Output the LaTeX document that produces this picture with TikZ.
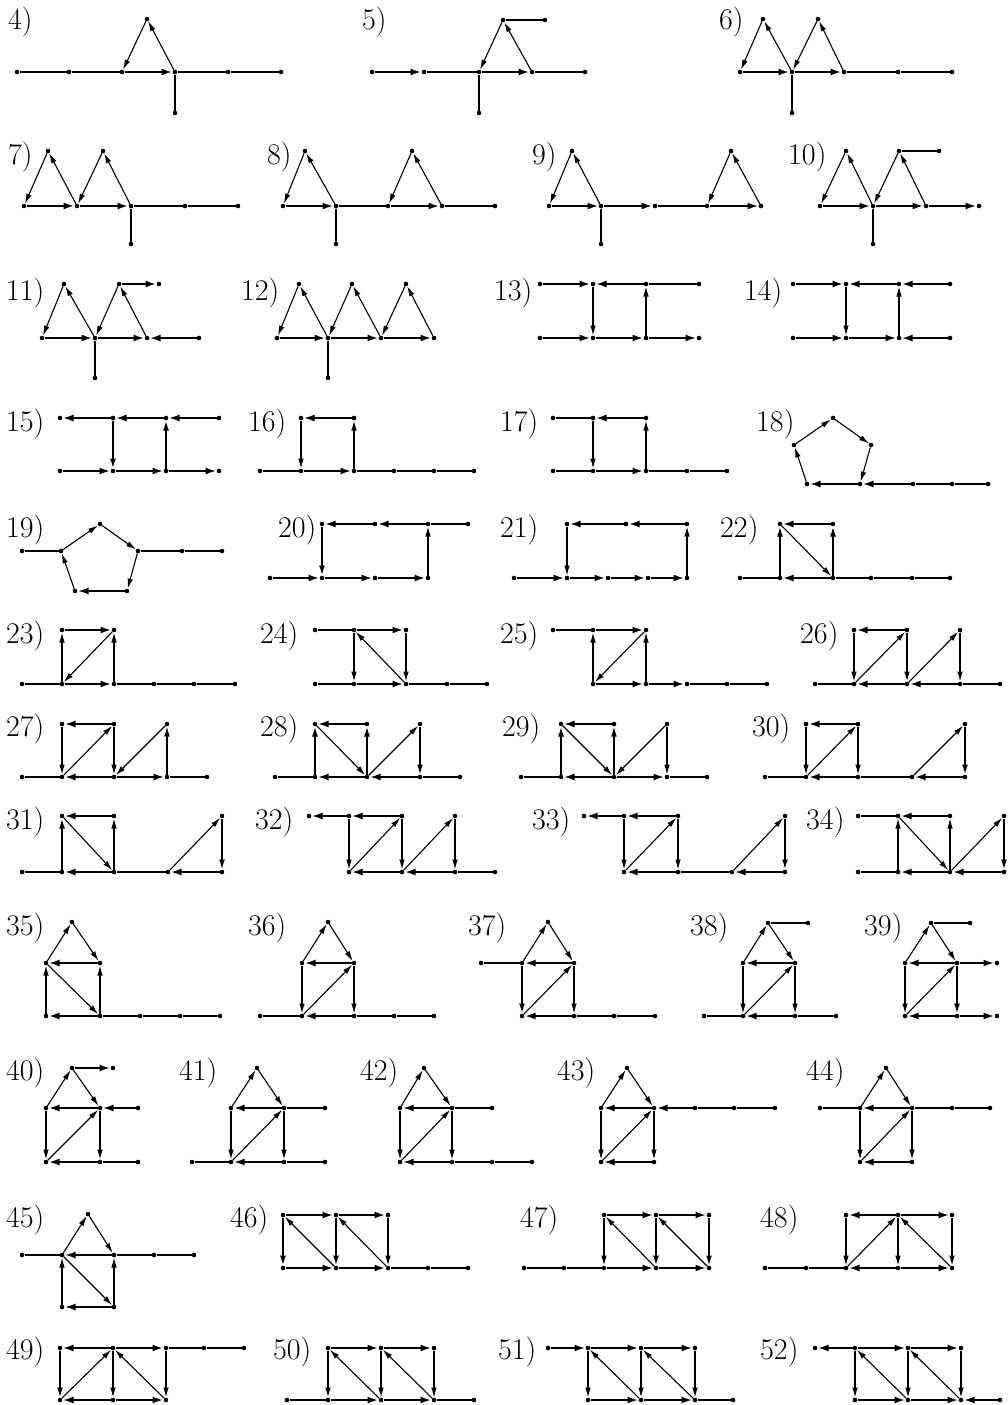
\documentclass[tikz,border=0pt]{standalone}
\usetikzlibrary{arrows.meta}
\tikzset{
 dot/.style={circle,fill=black,inner sep=0pt,minimum size=4.6pt},
 lbl/.style={anchor=west,inner sep=0pt,font=\fontsize{30}{32}\selectfont},
 tk/.style={line width=2.9pt},
 tka/.style={line width=2.9pt,-{Latex[length=11pt,width=7pt]}},
 tn/.style={line width=1.1pt},
 tna/.style={line width=1.1pt,-{Latex[length=10pt,width=5.5pt]}},
 md/.style={line width=1.8pt},
 mda/.style={line width=1.8pt,-{Latex[length=10pt,width=6pt]}},
}
\newcommand\D[3]{\node[dot] (#1) at (#2,#3) {};}
\newcommand\E[3]{\draw[#1] (#2) -- (#3);}
\begin{document}
\begin{tikzpicture}[x=1pt,y=-1pt]
\path[use as bounding box] (0,0) rectangle (1008,1405);
% labels
\node[lbl] (L4) at (8,22) {4)};
\node[lbl] (L5) at (362,22) {5)};
\node[lbl] (L6) at (719,22) {6)};
\node[lbl] (L7) at (8,157) {7)};
\node[lbl] (L8) at (267,157) {8)};
\node[lbl] (L9) at (532,157) {9)};
\node[lbl] (L10) at (788,157) {10)};
\node[lbl] (L11) at (6,293) {11)};
\node[lbl] (L12) at (241,293) {12)};
\node[lbl] (L13) at (494,293) {13)};
\node[lbl] (L14) at (744,293) {14)};
\node[lbl] (L15) at (6,424) {15)};
\node[lbl] (L16) at (248,424) {16)};
\node[lbl] (L17) at (500,424) {17)};
\node[lbl] (L18) at (756,424) {18)};
\node[lbl] (L19) at (6,530) {19)};
\node[lbl] (L20) at (278,530) {20)};
\node[lbl] (L21) at (500,530) {21)};
\node[lbl] (L22) at (720,530) {22)};
\node[lbl] (L23) at (6,636) {23)};
\node[lbl] (L24) at (260,636) {24)};
\node[lbl] (L25) at (500,636) {25)};
\node[lbl] (L26) at (800,636) {26)};
\node[lbl] (L27) at (6,729) {27)};
\node[lbl] (L28) at (260,729) {28)};
\node[lbl] (L29) at (502,729) {29)};
\node[lbl] (L30) at (752,729) {30)};
\node[lbl] (L31) at (6,822) {31)};
\node[lbl] (L32) at (255,822) {32)};
\node[lbl] (L33) at (532,822) {33)};
\node[lbl] (L34) at (806,822) {34)};
\node[lbl] (L35) at (6,928) {35)};
\node[lbl] (L36) at (248,928) {36)};
\node[lbl] (L37) at (468,928) {37)};
\node[lbl] (L38) at (690,928) {38)};
\node[lbl] (L39) at (864,928) {39)};
\node[lbl] (L40) at (6,1073) {40)};
\node[lbl] (L41) at (179,1073) {41)};
\node[lbl] (L42) at (360,1073) {42)};
\node[lbl] (L43) at (557,1073) {43)};
\node[lbl] (L44) at (806,1073) {44)};
\node[lbl] (L45) at (6,1220) {45)};
\node[lbl] (L46) at (230,1220) {46)};
\node[lbl] (L47) at (520,1220) {47)};
\node[lbl] (L48) at (760,1220) {48)};
\node[lbl] (L49) at (6,1352) {49)};
\node[lbl] (L50) at (273,1352) {50)};
\node[lbl] (L51) at (498,1352) {51)};
\node[lbl] (L52) at (760,1352) {52)};
% 4
\D{g4a}{17}{72}\D{g4b}{69}{72}\D{g4c}{122}{72}\D{g4d}{175}{72}\D{g4e}{228}{72}\D{g4f}{281}{72}\D{g4t}{147}{19}\D{g4u}{175}{113}
\E{tk}{g4a}{g4b}\E{tk}{g4b}{g4c}\E{tka}{g4c}{g4d}\E{tk}{g4d}{g4e}\E{tk}{g4e}{g4f}\E{md}{g4d}{g4u}\E{tna}{g4t}{g4c}\E{tna}{g4d}{g4t}
% 5
\D{g5a}{372}{72}\D{g5b}{424}{72}\D{g5c}{479}{72}\D{g5d}{532}{72}\D{g5e}{585}{72}\D{g5t}{503}{20}\D{g5s}{545}{20}\D{g5u}{479}{113}
\E{tka}{g5a}{g5b}\E{tk}{g5b}{g5c}\E{tka}{g5c}{g5d}\E{tk}{g5d}{g5e}\E{tk}{g5t}{g5s}\E{tn}{g5c}{g5u}\E{tna}{g5t}{g5c}\E{tna}{g5d}{g5t}
% 6
\D{g6a}{740}{72}\D{g6b}{792}{72}\D{g6c}{844}{72}\D{g6d}{898}{72}\D{g6e}{952}{72}\D{g6t}{763}{19}\D{g6s}{818}{19}\D{g6u}{792}{113}
\E{tka}{g6a}{g6b}\E{tka}{g6b}{g6c}\E{tk}{g6c}{g6d}\E{tk}{g6d}{g6e}\E{tk}{g6b}{g6u}\E{tna}{g6t}{g6a}\E{tna}{g6b}{g6t}\E{tna}{g6s}{g6b}\E{tna}{g6c}{g6s}
% 7
\D{g7a}{24}{206}\D{g7b}{77}{206}\D{g7c}{131}{206}\D{g7d}{185}{206}\D{g7e}{238}{206}\D{g7t}{48}{151}\D{g7s}{103}{151}\D{g7u}{131}{244}
\E{tka}{g7a}{g7b}\E{tka}{g7b}{g7c}\E{tk}{g7c}{g7d}\E{tk}{g7d}{g7e}\E{tn}{g7c}{g7u}\E{tna}{g7t}{g7a}\E{tna}{g7b}{g7t}\E{tna}{g7s}{g7b}\E{tna}{g7c}{g7s}
% 8
\D{g8a}{283}{206}\D{g8b}{336}{206}\D{g8c}{388}{206}\D{g8d}{442}{206}\D{g8e}{495}{206}\D{g8t}{305}{151}\D{g8s}{412}{151}\D{g8u}{336}{244}
\E{tka}{g8a}{g8b}\E{tk}{g8b}{g8c}\E{tka}{g8c}{g8d}\E{tk}{g8d}{g8e}\E{md}{g8b}{g8u}\E{tna}{g8t}{g8a}\E{tna}{g8b}{g8t}\E{tna}{g8s}{g8c}\E{tna}{g8d}{g8s}
% 9
\D{g9a}{549}{206}\D{g9b}{601}{206}\D{g9c}{655}{206}\D{g9d}{707}{206}\D{g9e}{761}{206}\D{g9t}{572}{151}\D{g9s}{731}{151}\D{g9u}{601}{244}
\E{tka}{g9a}{g9b}\E{tka}{g9b}{g9c}\E{tk}{g9c}{g9d}\E{tka}{g9d}{g9e}\E{tn}{g9b}{g9u}\E{tna}{g9t}{g9a}\E{tna}{g9b}{g9t}\E{tna}{g9s}{g9d}\E{tna}{g9e}{g9s}
% 10
\D{g10a}{820}{206}\D{g10b}{873}{206}\D{g10c}{926}{206}\D{g10d}{979}{206}\D{g10t}{846}{151}\D{g10s}{899}{151}\D{g10r}{939}{151}\D{g10u}{873}{244}
\E{tka}{g10a}{g10b}\E{tka}{g10b}{g10c}\E{tka}{g10c}{g10d}\E{tk}{g10s}{g10r}\E{tn}{g10b}{g10u}\E{tna}{g10t}{g10a}\E{tna}{g10b}{g10t}\E{tna}{g10s}{g10b}\E{tna}{g10c}{g10s}
% 11
\D{g11a}{42}{338}\D{g11b}{95}{338}\D{g11c}{147}{338}\D{g11d}{199}{338}\D{g11t}{64}{284}\D{g11s}{119}{284}\D{g11r}{159}{284}\D{g11u}{95}{378}
\E{tka}{g11a}{g11b}\E{tka}{g11b}{g11c}\E{tka}{g11d}{g11c}\E{tka}{g11s}{g11r}\E{tn}{g11b}{g11u}\E{tna}{g11t}{g11a}\E{tna}{g11b}{g11t}\E{tna}{g11s}{g11b}\E{tna}{g11c}{g11s}
% 12
\D{g12a}{277}{338}\D{g12b}{328}{338}\D{g12c}{381}{338}\D{g12d}{434}{338}\D{g12t}{299}{284}\D{g12s}{352}{284}\D{g12r}{406}{284}\D{g12u}{328}{378}
\E{tka}{g12a}{g12b}\E{tka}{g12b}{g12c}\E{tka}{g12c}{g12d}\E{tk}{g12b}{g12u}\E{tna}{g12t}{g12a}\E{tna}{g12b}{g12t}\E{tna}{g12s}{g12b}\E{tna}{g12c}{g12s}\E{tna}{g12r}{g12c}\E{tna}{g12d}{g12r}
% 13
\D{g13p}{540}{284}\D{g13q}{593}{284}\D{g13r}{646}{284}\D{g13s}{699}{284}\D{g13a}{540}{338}\D{g13b}{593}{338}\D{g13c}{646}{338}\D{g13d}{699}{338}
\E{tka}{g13p}{g13q}\E{tka}{g13r}{g13q}\E{tk}{g13r}{g13s}\E{tka}{g13a}{g13b}\E{tka}{g13b}{g13c}\E{tka}{g13c}{g13d}\E{tna}{g13q}{g13b}\E{tna}{g13c}{g13r}
% 14
\D{g14p}{793}{284}\D{g14q}{846}{284}\D{g14r}{899}{284}\D{g14s}{950}{284}\D{g14a}{793}{338}\D{g14b}{846}{338}\D{g14c}{899}{338}\D{g14d}{950}{338}
\E{tka}{g14p}{g14q}\E{tka}{g14r}{g14q}\E{tka}{g14s}{g14r}\E{tka}{g14a}{g14b}\E{tka}{g14b}{g14c}\E{tka}{g14d}{g14c}\E{tna}{g14q}{g14b}\E{tna}{g14c}{g14r}
% 15
\D{g15p}{60}{418}\D{g15q}{113}{418}\D{g15r}{166}{418}\D{g15s}{219}{418}\D{g15a}{60}{471}\D{g15b}{113}{471}\D{g15c}{166}{471}\D{g15d}{219}{471}
\E{tka}{g15q}{g15p}\E{tka}{g15r}{g15q}\E{tka}{g15s}{g15r}\E{tka}{g15a}{g15b}\E{tka}{g15b}{g15c}\E{tka}{g15c}{g15d}\E{mda}{g15q}{g15b}\E{mda}{g15c}{g15r}
% 16
\D{g16q}{301}{418}\D{g16r}{354}{418}\D{g16a}{260}{471}\D{g16b}{301}{471}\D{g16c}{354}{471}\D{g16d}{394}{471}\D{g16e}{434}{471}\D{g16f}{474}{471}
\E{tka}{g16r}{g16q}\E{tk}{g16a}{g16b}\E{tka}{g16b}{g16c}\E{tk}{g16c}{g16d}\E{tk}{g16d}{g16e}\E{tk}{g16e}{g16f}\E{tna}{g16q}{g16b}\E{tna}{g16c}{g16r}
% 17
\D{g17p}{553}{418}\D{g17q}{593}{418}\D{g17r}{646}{418}\D{g17a}{553}{471}\D{g17b}{593}{471}\D{g17c}{646}{471}\D{g17d}{687}{471}\D{g17e}{727}{471}
\E{tk}{g17p}{g17q}\E{tka}{g17r}{g17q}\E{tk}{g17a}{g17b}\E{tka}{g17b}{g17c}\E{tk}{g17c}{g17d}\E{tk}{g17d}{g17e}\E{tna}{g17q}{g17b}\E{tna}{g17c}{g17r}
% 18
\D{g18t}{833}{418}\D{g18R}{871}{445}\D{g18L}{794}{445}\D{g18l}{807}{484}\D{g18r}{860}{484}\D{g18e}{913}{484}\D{g18f}{952}{484}\D{g18g}{988}{484}
\E{tna}{g18L}{g18t}\E{tna}{g18t}{g18R}\E{tna}{g18R}{g18r}\E{tna}{g18l}{g18L}\E{tka}{g18r}{g18l}\E{tka}{g18e}{g18r}\E{tk}{g18e}{g18f}\E{tk}{g18f}{g18g}
% 19
\D{g19t}{100}{524}\D{g19L}{61}{551}\D{g19R}{138}{551}\D{g19l}{75}{591}\D{g19r}{127}{591}\D{g19a}{22}{551}\D{g19e}{182}{551}\D{g19f}{222}{551}
\E{tk}{g19a}{g19L}\E{tna}{g19L}{g19t}\E{tna}{g19t}{g19R}\E{tna}{g19R}{g19r}\E{tna}{g19l}{g19L}\E{tka}{g19r}{g19l}\E{tk}{g19R}{g19e}\E{tk}{g19e}{g19f}
% 20
\D{g20p}{322}{524}\D{g20q}{375}{524}\D{g20r}{428}{524}\D{g20s}{468}{524}\D{g20a}{270}{578}\D{g20b}{322}{578}\D{g20c}{375}{578}\D{g20d}{428}{578}
\E{tka}{g20q}{g20p}\E{tka}{g20r}{g20q}\E{tk}{g20r}{g20s}\E{tka}{g20a}{g20b}\E{tka}{g20b}{g20c}\E{tka}{g20c}{g20d}\E{mda}{g20p}{g20b}\E{tna}{g20d}{g20r}
% 21
\D{g21p}{567}{524}\D{g21q}{626}{524}\D{g21r}{687}{524}\D{g21a}{514}{578}\D{g21b}{567}{578}\D{g21c}{608}{578}\D{g21d}{648}{578}\D{g21e}{687}{578}
\E{tka}{g21q}{g21p}\E{tka}{g21r}{g21q}\E{tka}{g21a}{g21b}\E{tka}{g21b}{g21c}\E{tka}{g21c}{g21d}\E{tka}{g21d}{g21e}\E{tna}{g21p}{g21b}\E{tna}{g21e}{g21r}
% 22
\D{g22p}{780}{524}\D{g22q}{833}{524}\D{g22a}{740}{578}\D{g22b}{780}{578}\D{g22c}{833}{578}\D{g22d}{871}{578}\D{g22e}{912}{578}\D{g22f}{950}{578}
\E{tka}{g22q}{g22p}\E{tk}{g22a}{g22b}\E{tka}{g22c}{g22b}\E{tk}{g22c}{g22d}\E{tk}{g22d}{g22e}\E{tk}{g22e}{g22f}\E{mda}{g22b}{g22p}\E{mda}{g22c}{g22q}\E{tna}{g22p}{g22c}
% 23
\D{g23p}{62}{630}\D{g23q}{114}{630}\D{g23a}{22}{684}\D{g23b}{62}{684}\D{g23c}{114}{684}\D{g23d}{154}{684}\D{g23e}{194}{684}\D{g23f}{235}{684}
\E{tka}{g23p}{g23q}\E{tk}{g23a}{g23b}\E{tka}{g23b}{g23c}\E{tk}{g23c}{g23d}\E{tk}{g23d}{g23e}\E{tk}{g23e}{g23f}\E{tna}{g23b}{g23p}\E{tna}{g23c}{g23q}\E{tna}{g23q}{g23b}
% 24
\D{g24o}{315}{630}\D{g24p}{354}{630}\D{g24q}{406}{630}\D{g24a}{315}{684}\D{g24b}{354}{684}\D{g24c}{406}{684}\D{g24d}{447}{684}\D{g24e}{487}{684}
\E{tk}{g24o}{g24p}\E{tka}{g24p}{g24q}\E{tk}{g24a}{g24b}\E{tka}{g24b}{g24c}\E{tk}{g24c}{g24d}\E{tk}{g24d}{g24e}\E{tna}{g24p}{g24b}\E{tna}{g24q}{g24c}\E{tna}{g24c}{g24p}
% 25
\D{g25o}{553}{630}\D{g25p}{593}{630}\D{g25q}{646}{630}\D{g25b}{593}{684}\D{g25c}{646}{684}\D{g25d}{687}{684}\D{g25e}{727}{684}\D{g25f}{767}{684}
\E{tk}{g25o}{g25p}\E{tka}{g25p}{g25q}\E{tka}{g25b}{g25c}\E{tka}{g25c}{g25d}\E{tk}{g25d}{g25e}\E{tk}{g25e}{g25f}\E{tna}{g25b}{g25p}\E{tna}{g25c}{g25q}\E{tna}{g25q}{g25b}
% 26
\D{g26p}{854}{630}\D{g26q}{907}{630}\D{g26r}{960}{630}\D{g26a}{815}{684}\D{g26b}{854}{684}\D{g26c}{907}{684}\D{g26d}{960}{684}\D{g26e}{1000}{684}
\E{tka}{g26q}{g26p}\E{tk}{g26a}{g26b}\E{tka}{g26c}{g26b}\E{tka}{g26d}{g26c}\E{tk}{g26d}{g26e}\E{tna}{g26p}{g26b}\E{tna}{g26q}{g26c}\E{tna}{g26r}{g26d}\E{tna}{g26b}{g26q}\E{tna}{g26c}{g26r}
% 27
\D{g27p}{62}{724}\D{g27q}{114}{724}\D{g27r}{167}{724}\D{g27a}{22}{777}\D{g27b}{62}{777}\D{g27c}{114}{777}\D{g27d}{167}{777}\D{g27e}{207}{777}
\E{tka}{g27q}{g27p}\E{tk}{g27a}{g27b}\E{tka}{g27c}{g27b}\E{tka}{g27c}{g27d}\E{tk}{g27d}{g27e}\E{tna}{g27p}{g27b}\E{tna}{g27q}{g27c}\E{tna}{g27d}{g27r}\E{tna}{g27b}{g27q}\E{tna}{g27r}{g27c}
% 28
\D{g28p}{315}{724}\D{g28q}{367}{724}\D{g28r}{420}{724}\D{g28a}{275}{777}\D{g28b}{315}{777}\D{g28c}{367}{777}\D{g28d}{420}{777}\D{g28e}{460}{777}
\E{tka}{g28q}{g28p}\E{tk}{g28a}{g28b}\E{tka}{g28c}{g28b}\E{tka}{g28d}{g28c}\E{tk}{g28d}{g28e}\E{mda}{g28b}{g28p}\E{mda}{g28c}{g28q}\E{tna}{g28r}{g28d}\E{tna}{g28p}{g28c}\E{tna}{g28c}{g28r}
% 29
\D{g29p}{561}{724}\D{g29q}{614}{724}\D{g29r}{667}{724}\D{g29a}{521}{777}\D{g29b}{561}{777}\D{g29c}{614}{777}\D{g29d}{667}{777}\D{g29e}{707}{777}
\E{tka}{g29q}{g29p}\E{tk}{g29a}{g29b}\E{tka}{g29c}{g29b}\E{tka}{g29c}{g29d}\E{tk}{g29d}{g29e}\E{mda}{g29b}{g29p}\E{tna}{g29c}{g29q}\E{tna}{g29r}{g29d}\E{tna}{g29p}{g29c}\E{tna}{g29r}{g29c}
% 30
\D{g30p}{806}{724}\D{g30q}{858}{724}\D{g30r}{965}{724}\D{g30a}{765}{777}\D{g30b}{806}{777}\D{g30c}{858}{777}\D{g30d}{912}{777}\D{g30e}{965}{777}
\E{tka}{g30q}{g30p}\E{tk}{g30a}{g30b}\E{tka}{g30c}{g30b}\E{tk}{g30c}{g30d}\E{tka}{g30e}{g30d}\E{tna}{g30p}{g30b}\E{tna}{g30q}{g30c}\E{mda}{g30r}{g30e}\E{tna}{g30b}{g30q}\E{tna}{g30d}{g30r}
% 31
\D{g31p}{62}{816}\D{g31q}{114}{816}\D{g31s}{222}{816}\D{g31a}{22}{872}\D{g31b}{62}{872}\D{g31c}{114}{872}\D{g31d}{168}{872}\D{g31e}{222}{872}
\E{tka}{g31q}{g31p}\E{tk}{g31a}{g31b}\E{tka}{g31c}{g31b}\E{tk}{g31c}{g31d}\E{tka}{g31e}{g31d}\E{mda}{g31b}{g31p}\E{tna}{g31c}{g31q}\E{mda}{g31s}{g31e}\E{tna}{g31p}{g31c}\E{tna}{g31d}{g31s}
% 32
\D{g32o}{309}{816}\D{g32p}{349}{816}\D{g32q}{402}{816}\D{g32r}{455}{816}\D{g32b}{349}{872}\D{g32c}{402}{872}\D{g32d}{455}{872}\D{g32e}{495}{872}
\E{tka}{g32p}{g32o}\E{tka}{g32q}{g32p}\E{tka}{g32c}{g32b}\E{tka}{g32d}{g32c}\E{tk}{g32d}{g32e}\E{tna}{g32p}{g32b}\E{tna}{g32q}{g32c}\E{tna}{g32r}{g32d}\E{tna}{g32b}{g32q}\E{tna}{g32c}{g32r}
% 33
\D{g33o}{584}{816}\D{g33p}{624}{816}\D{g33q}{678}{816}\D{g33r}{785}{816}\D{g33b}{624}{872}\D{g33c}{678}{872}\D{g33d}{732}{872}\D{g33e}{785}{872}
\E{tka}{g33p}{g33o}\E{tka}{g33q}{g33p}\E{tka}{g33c}{g33b}\E{tk}{g33c}{g33d}\E{tka}{g33e}{g33d}\E{tna}{g33p}{g33b}\E{tna}{g33q}{g33c}\E{mda}{g33r}{g33e}\E{tna}{g33b}{g33q}\E{tna}{g33d}{g33r}
% 34
\D{g34o}{858}{816}\D{g34p}{898}{816}\D{g34q}{950}{816}\D{g34r}{1004}{816}\D{g34a}{858}{872}\D{g34b}{898}{872}\D{g34c}{950}{872}\D{g34d}{1004}{872}
\E{tk}{g34o}{g34p}\E{tka}{g34q}{g34p}\E{tk}{g34a}{g34b}\E{tka}{g34c}{g34b}\E{tka}{g34d}{g34c}\E{tna}{g34b}{g34p}\E{tna}{g34c}{g34q}\E{mda}{g34r}{g34d}\E{tna}{g34p}{g34c}\E{tna}{g34c}{g34r}
% 35
\D{g35t}{72}{922}\D{g35m}{46}{963}\D{g35n}{100}{963}\D{g35a}{46}{1016}\D{g35b}{100}{1016}\D{g35c}{140}{1016}\D{g35d}{180}{1016}\D{g35e}{220}{1016}
\E{tna}{g35m}{g35t}\E{tna}{g35t}{g35n}\E{tka}{g35n}{g35m}\E{tka}{g35b}{g35a}\E{tk}{g35b}{g35c}\E{tk}{g35c}{g35d}\E{tk}{g35d}{g35e}\E{tna}{g35a}{g35m}\E{tna}{g35b}{g35n}\E{tna}{g35m}{g35b}
% 36
\D{g36t}{328}{922}\D{g36m}{302}{963}\D{g36n}{354}{963}\D{g36o}{260}{1016}\D{g36a}{302}{1016}\D{g36b}{354}{1016}\D{g36c}{394}{1016}\D{g36d}{434}{1016}
\E{tna}{g36m}{g36t}\E{tna}{g36t}{g36n}\E{tka}{g36n}{g36m}\E{tk}{g36o}{g36a}\E{tka}{g36b}{g36a}\E{tk}{g36b}{g36c}\E{tk}{g36c}{g36d}\E{tna}{g36m}{g36a}\E{tna}{g36n}{g36b}\E{tna}{g36a}{g36n}
% 37
\D{g37t}{548}{922}\D{g37l}{481}{963}\D{g37m}{522}{963}\D{g37n}{574}{963}\D{g37a}{522}{1016}\D{g37b}{574}{1016}\D{g37c}{614}{1016}\D{g37d}{655}{1016}
\E{tk}{g37l}{g37m}\E{tna}{g37m}{g37t}\E{tna}{g37t}{g37n}\E{tka}{g37n}{g37m}\E{tka}{g37b}{g37a}\E{tk}{g37b}{g37c}\E{tk}{g37c}{g37d}\E{mda}{g37m}{g37a}\E{tna}{g37n}{g37b}\E{tna}{g37a}{g37n}
% 38
\D{g38t}{768}{923}\D{g38s}{808}{923}\D{g38m}{743}{963}\D{g38n}{795}{963}\D{g38o}{704}{1016}\D{g38a}{743}{1016}\D{g38b}{795}{1016}\D{g38c}{836}{1016}
\E{tk}{g38t}{g38s}\E{tna}{g38m}{g38t}\E{tna}{g38t}{g38n}\E{tka}{g38n}{g38m}\E{tk}{g38o}{g38a}\E{tka}{g38b}{g38a}\E{tk}{g38b}{g38c}\E{tna}{g38m}{g38a}\E{tna}{g38n}{g38b}\E{tna}{g38a}{g38n}
% 39
\D{g39t}{931}{923}\D{g39s}{970}{923}\D{g39m}{905}{963}\D{g39n}{957}{963}\D{g39k}{997}{963}\D{g39a}{905}{1016}\D{g39b}{957}{1016}\D{g39c}{997}{1016}
\E{tk}{g39t}{g39s}\E{tna}{g39m}{g39t}\E{tna}{g39t}{g39n}\E{tka}{g39n}{g39m}\E{tka}{g39n}{g39k}\E{tka}{g39b}{g39a}\E{tka}{g39b}{g39c}\E{tna}{g39m}{g39a}\E{mda}{g39n}{g39b}\E{tna}{g39a}{g39n}
% 40
\D{g40t}{72}{1068}\D{g40s}{113}{1068}\D{g40m}{46}{1108}\D{g40n}{100}{1108}\D{g40k}{138}{1108}\D{g40a}{46}{1162}\D{g40b}{100}{1162}\D{g40c}{138}{1162}
\E{tka}{g40t}{g40s}\E{tna}{g40m}{g40t}\E{tna}{g40t}{g40n}\E{tka}{g40n}{g40m}\E{tka}{g40k}{g40n}\E{tka}{g40b}{g40a}\E{tk}{g40b}{g40c}\E{tna}{g40m}{g40a}\E{tna}{g40n}{g40b}\E{tna}{g40a}{g40n}
% 41
\D{g41t}{257}{1068}\D{g41m}{231}{1108}\D{g41n}{284}{1108}\D{g41k}{325}{1108}\D{g41o}{192}{1162}\D{g41a}{231}{1162}\D{g41b}{284}{1162}\D{g41c}{325}{1162}
\E{tna}{g41m}{g41t}\E{tna}{g41t}{g41n}\E{tka}{g41n}{g41m}\E{tk}{g41n}{g41k}\E{tk}{g41o}{g41a}\E{tka}{g41b}{g41a}\E{tk}{g41b}{g41c}\E{tna}{g41m}{g41a}\E{tna}{g41n}{g41b}\E{tna}{g41a}{g41n}
% 42
\D{g42t}{424}{1068}\D{g42m}{400}{1108}\D{g42n}{452}{1108}\D{g42k}{492}{1108}\D{g42a}{400}{1162}\D{g42b}{452}{1162}\D{g42c}{492}{1162}\D{g42d}{532}{1162}
\E{tna}{g42m}{g42t}\E{tna}{g42t}{g42n}\E{tka}{g42n}{g42m}\E{tk}{g42n}{g42k}\E{tka}{g42b}{g42a}\E{tk}{g42b}{g42c}\E{tk}{g42c}{g42d}\E{tna}{g42m}{g42a}\E{tna}{g42n}{g42b}\E{tna}{g42a}{g42n}
% 43
\D{g43t}{627}{1068}\D{g43m}{601}{1108}\D{g43n}{654}{1108}\D{g43k}{695}{1108}\D{g43j}{734}{1108}\D{g43i}{775}{1108}\D{g43a}{601}{1162}\D{g43b}{654}{1162}
\E{tna}{g43m}{g43t}\E{tna}{g43t}{g43n}\E{tka}{g43n}{g43m}\E{tka}{g43k}{g43n}\E{tk}{g43k}{g43j}\E{tk}{g43j}{g43i}\E{tka}{g43b}{g43a}\E{tna}{g43m}{g43a}\E{tna}{g43n}{g43b}\E{tna}{g43a}{g43n}
% 44
\D{g44t}{886}{1068}\D{g44l}{820}{1108}\D{g44m}{860}{1108}\D{g44n}{912}{1108}\D{g44k}{952}{1108}\D{g44j}{990}{1108}\D{g44a}{860}{1162}\D{g44b}{912}{1162}
\E{tk}{g44l}{g44m}\E{tna}{g44m}{g44t}\E{tna}{g44t}{g44n}\E{tka}{g44n}{g44m}\E{tk}{g44n}{g44k}\E{tk}{g44k}{g44j}\E{tka}{g44b}{g44a}\E{tna}{g44m}{g44a}\E{tna}{g44n}{g44b}\E{tna}{g44a}{g44n}
% 45
\D{g45t}{88}{1214}\D{g45l}{22}{1255}\D{g45m}{62}{1255}\D{g45n}{114}{1255}\D{g45k}{154}{1255}\D{g45j}{194}{1255}\D{g45a}{62}{1307}\D{g45b}{114}{1307}
\E{tk}{g45l}{g45m}\E{tka}{g45n}{g45m}\E{tk}{g45n}{g45k}\E{tk}{g45k}{g45j}\E{tna}{g45m}{g45t}\E{tna}{g45t}{g45n}\E{tka}{g45b}{g45a}\E{tna}{g45a}{g45m}\E{tna}{g45b}{g45n}\E{tna}{g45m}{g45b}
% 46
\D{g46p}{283}{1215}\D{g46q}{336}{1215}\D{g46r}{388}{1215}\D{g46a}{283}{1268}\D{g46b}{336}{1268}\D{g46c}{388}{1268}\D{g46d}{428}{1268}\D{g46e}{468}{1268}
\E{tka}{g46p}{g46q}\E{tka}{g46q}{g46r}\E{tka}{g46a}{g46b}\E{tka}{g46b}{g46c}\E{tk}{g46c}{g46d}\E{tk}{g46d}{g46e}\E{mda}{g46p}{g46a}\E{mda}{g46q}{g46b}\E{tna}{g46r}{g46c}\E{tna}{g46b}{g46p}\E{tna}{g46c}{g46q}
% 47
\D{g47p}{604}{1215}\D{g47q}{656}{1215}\D{g47r}{709}{1215}\D{g47a}{524}{1268}\D{g47b}{564}{1268}\D{g47c}{604}{1268}\D{g47d}{656}{1268}\D{g47e}{709}{1268}
\E{tka}{g47p}{g47q}\E{tka}{g47q}{g47r}\E{tk}{g47a}{g47b}\E{tk}{g47b}{g47c}\E{tka}{g47c}{g47d}\E{tka}{g47d}{g47e}\E{tna}{g47p}{g47c}\E{mda}{g47q}{g47d}\E{tna}{g47r}{g47e}\E{tna}{g47d}{g47p}\E{tna}{g47e}{g47q}
% 48
\D{g48p}{846}{1215}\D{g48q}{898}{1215}\D{g48r}{952}{1215}\D{g48a}{765}{1268}\D{g48b}{806}{1268}\D{g48c}{846}{1268}\D{g48d}{898}{1268}\D{g48e}{952}{1268}
\E{tka}{g48q}{g48p}\E{tka}{g48q}{g48r}\E{tk}{g48a}{g48b}\E{tk}{g48b}{g48c}\E{tka}{g48d}{g48c}\E{tka}{g48d}{g48e}\E{tna}{g48p}{g48c}\E{tna}{g48q}{g48d}\E{tna}{g48r}{g48e}\E{tna}{g48c}{g48q}\E{tna}{g48e}{g48q}
% 49
\D{g49p}{60}{1348}\D{g49q}{113}{1348}\D{g49r}{166}{1348}\D{g49s}{204}{1348}\D{g49u}{244}{1348}\D{g49a}{60}{1400}\D{g49b}{113}{1400}\D{g49c}{166}{1400}
\E{tka}{g49q}{g49p}\E{tka}{g49q}{g49r}\E{tk}{g49r}{g49s}\E{tk}{g49s}{g49u}\E{tka}{g49b}{g49a}\E{tka}{g49b}{g49c}\E{mda}{g49p}{g49a}\E{tna}{g49q}{g49b}\E{tna}{g49r}{g49c}\E{tna}{g49a}{g49q}\E{tna}{g49c}{g49q}
% 50
\D{g50p}{328}{1348}\D{g50q}{381}{1348}\D{g50r}{434}{1348}\D{g50a}{287}{1400}\D{g50b}{328}{1400}\D{g50c}{381}{1400}\D{g50d}{434}{1400}\D{g50e}{474}{1400}
\E{tka}{g50p}{g50q}\E{tka}{g50q}{g50r}\E{tk}{g50a}{g50b}\E{tka}{g50b}{g50c}\E{tka}{g50c}{g50d}\E{tk}{g50d}{g50e}\E{mda}{g50p}{g50b}\E{tna}{g50q}{g50c}\E{tna}{g50r}{g50d}\E{tna}{g50c}{g50p}\E{tna}{g50d}{g50q}
% 51
\D{g51o}{548}{1348}\D{g51p}{588}{1348}\D{g51q}{641}{1348}\D{g51r}{695}{1348}\D{g51b}{588}{1400}\D{g51c}{641}{1400}\D{g51d}{695}{1400}\D{g51e}{733}{1400}
\E{tka}{g51o}{g51p}\E{tka}{g51p}{g51q}\E{tka}{g51q}{g51r}\E{tka}{g51b}{g51c}\E{tka}{g51c}{g51d}\E{tk}{g51d}{g51e}\E{tna}{g51p}{g51b}\E{tna}{g51q}{g51c}\E{tna}{g51r}{g51d}\E{tna}{g51c}{g51p}\E{tna}{g51d}{g51q}
% 52
\D{g52o}{815}{1348}\D{g52p}{855}{1348}\D{g52q}{908}{1348}\D{g52r}{961}{1348}\D{g52b}{855}{1400}\D{g52c}{908}{1400}\D{g52d}{961}{1400}\D{g52e}{1000}{1400}
\E{tka}{g52p}{g52o}\E{tka}{g52p}{g52q}\E{tka}{g52q}{g52r}\E{tka}{g52b}{g52c}\E{tka}{g52c}{g52d}\E{tka}{g52e}{g52d}\E{tna}{g52p}{g52b}\E{tna}{g52q}{g52c}\E{tna}{g52r}{g52d}\E{tna}{g52c}{g52p}\E{tna}{g52d}{g52q}
\end{tikzpicture}
\end{document}
